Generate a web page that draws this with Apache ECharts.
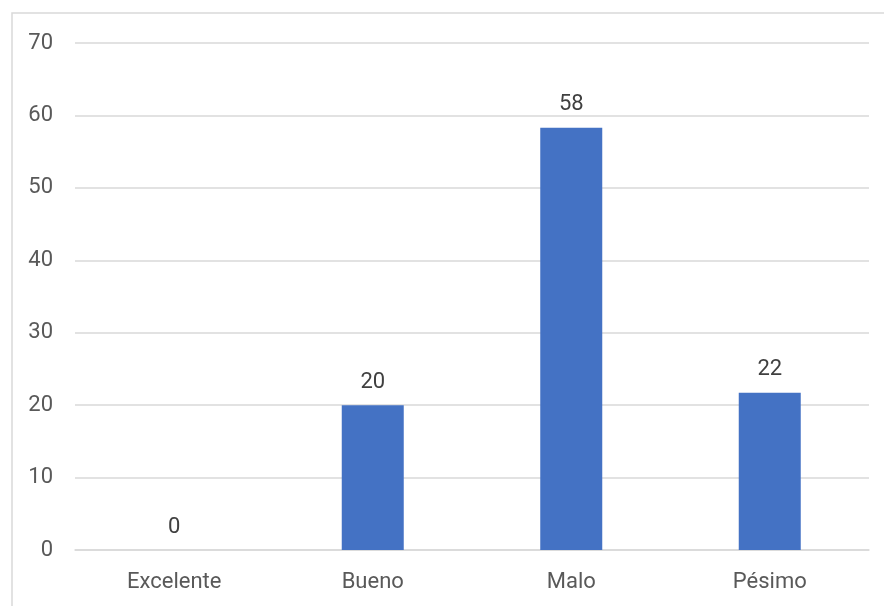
<!DOCTYPE html>
<html><head><meta charset="utf-8">
<script src="https://cdn.jsdelivr.net/npm/echarts@6/dist/echarts.min.js"></script>
<style>html,body{margin:0;padding:0;background:#fff}#c{width:884px;height:606px}</style>
</head><body><div id="c"></div>
<script>
const categories = ['Excelente', 'Bueno', 'Malo', 'Pésimo'];
const values = [0, 20, 58.3, 21.7];
const yTicks = [0, 10, 20, 30, 40, 50, 60, 70];

const chart = echarts.init(document.getElementById('c'));
const font = "Roboto, 'Open Sans', sans-serif";
chart.setOption({
  animation: false,
  backgroundColor: '#fff',
  graphic: [{
    type: 'rect', shape: {x: 12, y: 13, width: 900, height: 700},
    style: {fill: 'none', stroke: '#d9d9d9', lineWidth: 1.5}, silent: true, z: -1
  }],
  grid: {left: 75, right: 15, top: 43, bottom: 56},
  xAxis: {
    type: 'category', data: categories,
    axisLine: {lineStyle: {color: '#d9d9d9', width: 1.5}},
    axisTick: {show: false},
    axisLabel: {color: '#595959', fontSize: 22, fontFamily: font, margin: 21}
  },
  yAxis: {
    type: 'value', min: yTicks[0], max: yTicks[yTicks.length - 1], interval: 10,
    axisLine: {show: false}, axisTick: {show: false},
    splitLine: {lineStyle: {color: '#d9d9d9', width: 1.5}},
    axisLabel: {color: '#595959', fontSize: 22, fontFamily: font, margin: 22}
  },
  series: [{
    type: 'bar', data: values, barWidth: 62,
    itemStyle: {color: '#4472C4'},
    label: {
      show: true, position: 'top', distance: 12,
      color: '#404040', fontSize: 22, fontFamily: font,
      formatter: p => Math.round(p.value)
    }
  }]
});
</script></body></html>
